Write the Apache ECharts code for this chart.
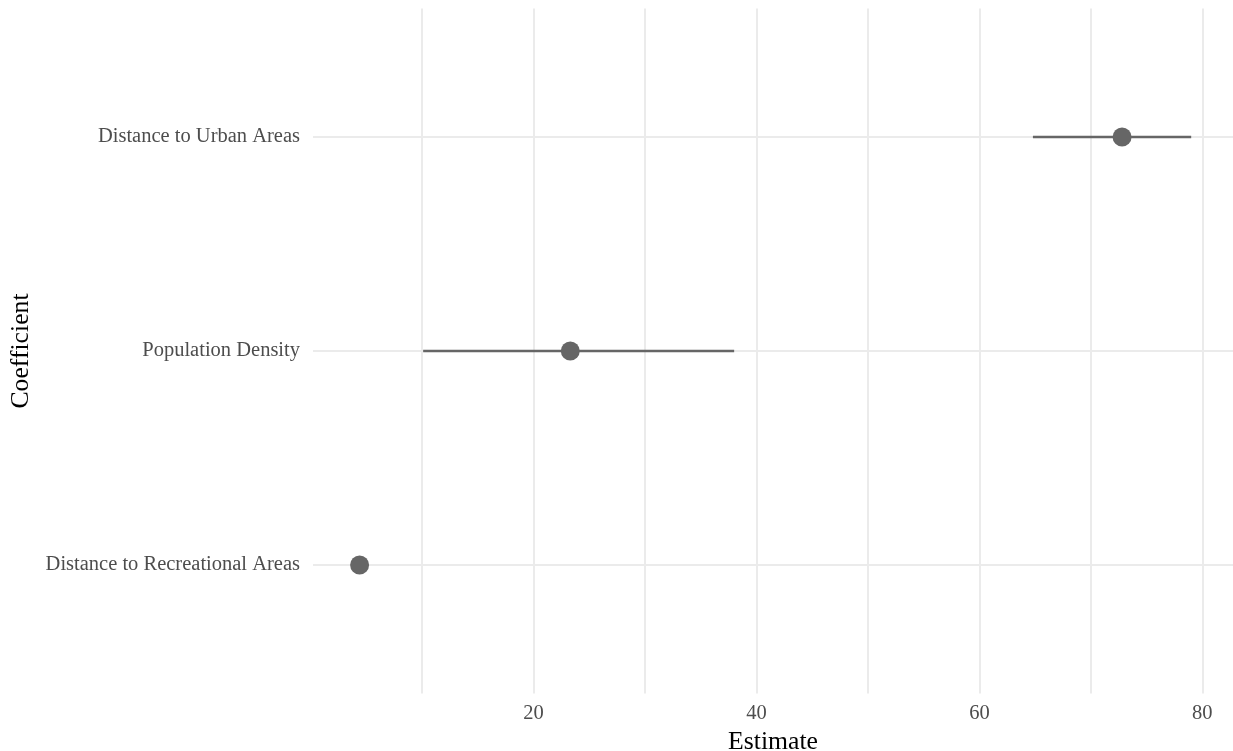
<!DOCTYPE html>
<html>
<head>
<meta charset="utf-8">
<script src="https://cdn.jsdelivr.net/npm/echarts@6/dist/echarts.min.js"></script>
<style>
  html, body { margin: 0; padding: 0; background: #ffffff; }
  #chart { width: 1233px; height: 751px; }
</style>
</head>
<body>
<div id="chart"></div>
<script>
// Coefficient estimates with confidence intervals (bottom to top)
const categories = ['Distance to Recreational Areas', 'Population Density', 'Distance to Urban Areas'];
const estimates = [4.4, 23.3, 72.8];
const lowerCI = [4.0, 10.1, 64.8];
const upperCI = [4.9, 38.0, 79.0];

// x axis: labelled breaks and all grid breaks (major + minor)
const xTickLabels = [20, 40, 60, 80];
const xGridValues = [10, 20, 30, 40, 50, 60, 70, 80];
const yPositions = [1, 2, 3];

const FONT = '"Liberation Serif", "DejaVu Serif", serif';
const GRID_COLOR = '#ebebeb';
const MARK_COLOR = '#666666';

const chart = echarts.init(document.getElementById('chart'), null, { renderer: 'canvas' });

const intervalData = categories.map((c, i) => [yPositions[i], lowerCI[i], upperCI[i]]);
const pointData = categories.map((c, i) => [estimates[i], yPositions[i]]);

chart.setOption({
  backgroundColor: '#ffffff',
  animation: false,
  grid: {
    left: 313, right: 0, top: 8.6, bottom: 57.6,
    containLabel: false,
    outerBoundsMode: 'none'
  },
  xAxis: {
    type: 'value',
    min: 0.22,
    max: 82.75,
    name: 'Estimate',
    nameLocation: 'middle',
    nameGap: 33,
    nameTextStyle: { fontFamily: FONT, fontSize: 25.7, color: '#000000' },
    axisLine: { show: false },
    axisTick: { show: false, customValues: xGridValues },
    axisLabel: {
      customValues: xTickLabels,
      fontFamily: FONT, fontSize: 20.5, color: '#4d4d4d', margin: 10
    },
    splitLine: { show: true, lineStyle: { color: GRID_COLOR, width: 2 } }
  },
  yAxis: {
    type: 'value',
    min: 0.4,
    max: 3.6,
    name: 'Coefficient',
    nameLocation: 'middle',
    nameRotate: 90,
    nameGap: 277,
    nameTextStyle: { fontFamily: FONT, fontSize: 25.7, color: '#000000' },
    axisLine: { show: false },
    axisTick: { show: false, customValues: yPositions },
    axisLabel: {
      customValues: yPositions,
      formatter: v => categories[Math.round(v) - 1],
      fontFamily: FONT, fontSize: 20.5, color: '#4d4d4d', margin: 13,
      padding: [3, 0, 0, 0]
    },
    splitLine: { show: true, lineStyle: { color: GRID_COLOR, width: 2 } }
  },
  series: [
    {
      type: 'custom',
      name: 'interval',
      data: intervalData,
      encode: { x: [1, 2], y: 0 },
      renderItem: function (params, api) {
        const y = api.value(0);
        const p1 = api.coord([api.value(1), y]);
        const p2 = api.coord([api.value(2), y]);
        return {
          type: 'line',
          shape: { x1: p1[0], y1: p1[1], x2: p2[0], y2: p2[1] },
          style: { stroke: MARK_COLOR, lineWidth: 2.6 }
        };
      },
      z: 2
    },
    {
      type: 'scatter',
      name: 'estimate',
      data: pointData,
      symbol: 'circle',
      symbolSize: 19,
      itemStyle: { color: MARK_COLOR, opacity: 1 },
      z: 3
    }
  ]
});
</script>
</body>
</html>
